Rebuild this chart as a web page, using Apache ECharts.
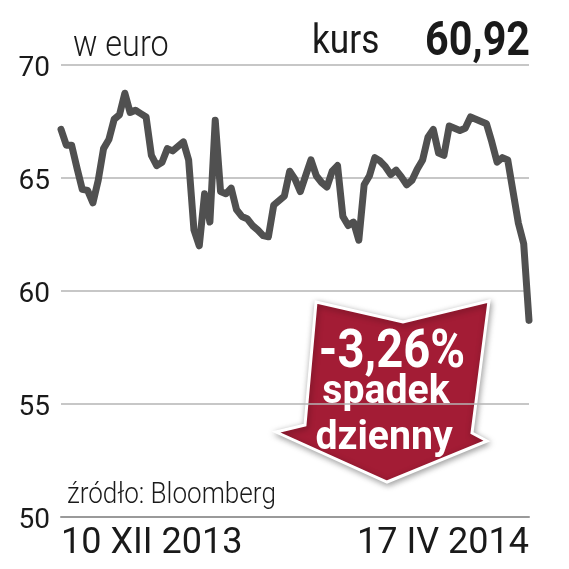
<!DOCTYPE html>
<html><head><meta charset="utf-8">
<script src="https://cdn.jsdelivr.net/npm/echarts@6/dist/echarts.min.js"></script>
<style>html,body{margin:0;padding:0;background:#fff}#c{width:569px;height:569px}</style>
</head><body><div id="c"></div><script>
// Kurs w euro, 10 XII 2013 - 17 IV 2014 (daily closes)
const values = [
  67.15, 66.45, 66.45, 65.45, 64.5, 64.45, 63.9, 64.9, 66.3, 66.7,
  67.6, 67.8, 68.75, 67.9, 68.0, 67.85, 67.7, 66.0, 65.55, 65.7,
  66.3, 66.2, 66.4, 66.6, 65.8, 62.7, 62.0, 64.3, 63.05, 67.55,
  64.4, 64.3, 64.55, 63.6, 63.3, 63.2, 62.9, 62.7, 62.45, 62.4,
  63.8, 64.0, 64.2, 65.3, 64.95, 64.4, 65.1, 65.8, 65.1, 64.8,
  64.6, 65.3, 65.55, 63.3, 62.9, 63.05, 62.25, 64.7, 65.1, 65.9,
  65.75, 65.5, 65.15, 65.35, 65.05, 64.7, 64.9, 65.4, 65.8, 66.8,
  67.15, 66.1, 66.0, 67.3, 67.2, 67.1, 67.2, 67.7, 67.6, 67.5,
  67.4, 66.6, 65.7, 65.9, 65.8, 64.4, 63.0, 62.1, 58.7
];
const categories = values.map((_, i) => i);
const xLabels = ['10 XII 2013', '17 IV 2014'];
const yMin = 50, yMax = 70, yStep = 5;
const unitText = 'w euro';
const priceLabel = 'kurs';
const priceValue = '60,92';
const changeLines = ['-3,26%', 'spadek', 'dzienny'];
const sourceText = 'źródło: Bloomberg';

const ff = '"Roboto", "DejaVu Sans", sans-serif';
const chart = echarts.init(document.getElementById('c'), null, {renderer: 'canvas'});
const lastIdx = categories.length - 1;

chart.setOption({
  animation: false,
  backgroundColor: '#ffffff',
  grid: {left: 61, right: 40, top: 65, bottom: 52, containLabel: false},
  xAxis: {
    type: 'category',
    data: categories,
    boundaryGap: false,
    axisLine: {show: true, lineStyle: {color: '#9a9a9a', width: 2}},
    axisTick: {show: false},
    splitLine: {show: false},
    axisLabel: {
      interval: 0,
      margin: 9,
      color: '#1a1a1a',
      fontFamily: ff,
      fontSize: 36,
      alignMinLabel: 'left',
      alignMaxLabel: 'right',
      formatter: (v, i) => (i === 0 ? xLabels[0] : (i === lastIdx ? xLabels[1] : ''))
    }
  },
  yAxis: {
    type: 'value',
    min: yMin, max: yMax, interval: yStep,
    axisLine: {show: false},
    axisTick: {show: false},
    splitLine: {show: true, lineStyle: {color: '#b4b4b4', width: 1.5}},
    axisLabel: {
      margin: 11,
      color: '#1a1a1a',
      fontFamily: ff,
      fontSize: 28,
      verticalAlign: 'top',
      padding: [-10, 0, 0, 0]
    }
  },
  series: [{
    type: 'line',
    data: values,
    symbol: 'none',
    smooth: false,
    z: 3,
    lineStyle: {color: '#505050', width: 7, cap: 'round', join: 'round'}
  }],
  graphic: [
    {type: 'text', x: 73, y: 29, scaleX: 0.9, style: {text: unitText, fill: '#1a1a1a', font: '300 36px ' + ff, verticalAlign: 'top'}},
    {type: 'text', x: 312, y: 23, scaleX: 0.88, style: {text: priceLabel, fill: '#1a1a1a', font: '40px ' + ff, verticalAlign: 'top'}},
    {type: 'text', x: 530, y: 19, scaleX: 0.86, style: {text: priceValue, fill: '#1a1a1a', font: 'bold 48px ' + ff, align: 'right', verticalAlign: 'top'}},
    {type: 'text', x: 67, y: 481, scaleX: 0.9, style: {text: sourceText, fill: '#1a1a1a', font: '300 29px ' + ff, verticalAlign: 'top'}},
    {
      type: 'group', z: 100,
      children: [
        {
          type: 'polygon',
          shape: {points: [[316,302],[403,322],[489,301],[472,433],[487,441],[387,482],[276,432],[305,425]]},
          style: {fill: '#a31c35', stroke: '#ffffff', lineWidth: 3, shadowBlur: 6, shadowColor: 'rgba(0,0,0,0.35)', shadowOffsetX: 1, shadowOffsetY: 2}
        },
        {type: 'text', x: 392, y: 327, scaleX: 0.89, style: {text: changeLines[0], fill: '#fff', font: 'bold 53px ' + ff, align: 'center', verticalAlign: 'top'}},
        {type: 'text', x: 386, y: 373, scaleX: 0.98, style: {text: changeLines[1], fill: '#fff', font: 'bold 40px ' + ff, align: 'center', verticalAlign: 'top'}},
        {type: 'text', x: 384, y: 419, scaleX: 0.98, style: {text: changeLines[2], fill: '#fff', font: 'bold 40px ' + ff, align: 'center', verticalAlign: 'top'}}
      ]
    }
  ]
});
</script></body></html>
